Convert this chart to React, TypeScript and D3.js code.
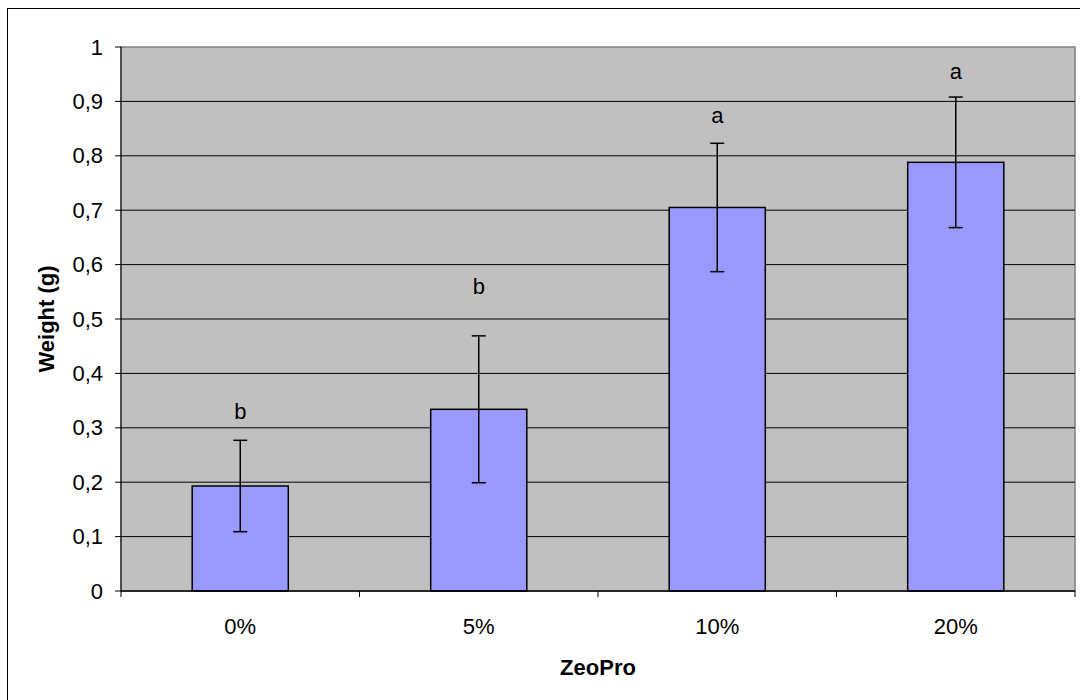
import React from 'react';
import * as d3 from 'd3';

const categories = ['0%', '5%', '10%', '20%'];
const means = [0.193, 0.334, 0.705, 0.788];
const errors = [0.084, 0.135, 0.118, 0.12];
const letters = ['b', 'b', 'a', 'a'];
const letterValues = [0.33, 0.56, 0.875, 0.955];
const yTicks = [0, 0.1, 0.2, 0.3, 0.4, 0.5, 0.6, 0.7, 0.8, 0.9, 1];

const width = 1080;
const height = 700;
const plot = { left: 121, right: 1075, top: 47, bottom: 591 };
const font = '"Liberation Sans", Arial, sans-serif';
const fs = 22;

export default function App() {
  const x = d3.scaleBand().domain(categories).range([plot.left, plot.right]).padding(0);
  const y = d3.scaleLinear().domain([0, 1]).range([plot.bottom, plot.top]);
  const barW = x.bandwidth() * 0.403;
  const fmt = (v: number) => (v === 0 || v === 1 ? String(v) : v.toFixed(1).replace('.', ','));

  return (
    <svg
      width={width}
      height={height}
      style={{ position: 'absolute', left: 0, top: 0, display: 'block' }}
      fontFamily={font}
    >
      <rect x={0} y={0} width={width} height={height} fill="#fff" />
      <rect x={7.5} y={8.5} width={1100} height={720} fill="none" stroke="#000" strokeWidth={1} />
      <rect x={plot.left} y={plot.top} width={plot.right - plot.left} height={plot.bottom - plot.top} fill="#c0c0c0" stroke="#808080" strokeWidth={1.5} />

      {yTicks.slice(1, -1).map((t) => (
        <line key={t} x1={plot.left} x2={plot.right} y1={y(t)} y2={y(t)} stroke="#000" strokeWidth={1} />
      ))}

      {categories.map((c, i) => {
        const cx = x(c)! + x.bandwidth() / 2;
        return (
          <g key={c}>
            <rect
              x={cx - barW / 2}
              y={y(means[i])}
              width={barW}
              height={plot.bottom - y(means[i])}
              fill="#9999ff"
              stroke="#000"
              strokeWidth={1.5}
            />
            <line x1={cx} x2={cx} y1={y(means[i] + errors[i])} y2={y(means[i] - errors[i])} stroke="#000" strokeWidth={1.5} />
            <line x1={cx - 7} x2={cx + 7} y1={y(means[i] + errors[i])} y2={y(means[i] + errors[i])} stroke="#000" strokeWidth={1.5} />
            <line x1={cx - 7} x2={cx + 7} y1={y(means[i] - errors[i])} y2={y(means[i] - errors[i])} stroke="#000" strokeWidth={1.5} />
            <text x={cx} y={y(letterValues[i])} textAnchor="middle" dominantBaseline="central" fontSize={fs} fill="#000">
              {letters[i]}
            </text>
            <text x={cx} y={626} textAnchor="middle" dominantBaseline="central" fontSize={fs} fill="#000">
              {c}
            </text>
          </g>
        );
      })}

      {/* axes */}
      <line x1={plot.left} x2={plot.left} y1={plot.top} y2={plot.bottom} stroke="#000" strokeWidth={1} />
      <line x1={plot.left} x2={plot.right} y1={plot.bottom} y2={plot.bottom} stroke="#000" strokeWidth={1.5} />
      {yTicks.map((t) => (
        <g key={t}>
          <line x1={plot.left - 6} x2={plot.left} y1={y(t)} y2={y(t)} stroke="#000" />
          <text x={103} y={y(t)} textAnchor="end" dominantBaseline="central" fontSize={fs} fill="#000">
            {fmt(t)}
          </text>
        </g>
      ))}
      {[...categories.map((c) => x(c)!), plot.right].map((px, i) => (
        <line key={i} x1={px} x2={px} y1={plot.bottom} y2={plot.bottom + 6} stroke="#000" />
      ))}

      <text
        transform={`translate(46,${(plot.top + plot.bottom) / 2}) rotate(-90)`}
        textAnchor="middle"
        dominantBaseline="central"
        fontSize={fs}
        fontWeight="bold"
        fill="#000"
      >
        Weight (g)
      </text>
      <text x={598} y={667} textAnchor="middle" dominantBaseline="central" fontSize={fs} fontWeight="bold" fill="#000">
        ZeoPro
      </text>
    </svg>
  );
}
